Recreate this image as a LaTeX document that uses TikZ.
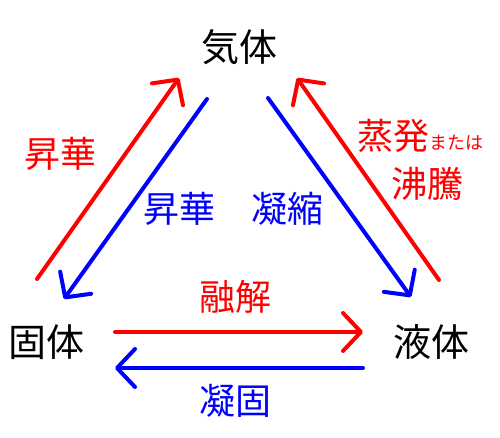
\documentclass[tikz,border=0pt]{standalone}
\usepackage{fontspec}
\newfontfamily\jpfont{Noto Sans CJK JP}
\usetikzlibrary{arrows.meta}
\definecolor{phasered}{RGB}{255,0,0}
\definecolor{phaseblue}{RGB}{0,0,255}
\tikzset{>={Straight Barb[length=9pt,width=19pt,line cap=round,line join=round]}}
\tikzset{%
    phase/.style={inner sep=0pt,font=\jpfont\fontsize{19}{21}\selectfont},
    change/.style={inner sep=0pt,font=\jpfont\fontsize{18}{20}\selectfont},
    trans/.style={->,line width=2pt,line cap=round}
}

\begin{document}
\begin{tikzpicture}[x=0.5pt,y=-0.5pt]
\useasboundingbox (0,0) rectangle (500,438);

\node[phase] (gas) at (240,47) {気体};
\node[phase] (solid) at (47,342) {固体};
\node[phase] (liquid) at (432,342) {液体};

\coordinate (sgR0) at (37,279);  \coordinate (sgR1) at (179,78);
\coordinate (gsB0) at (207,99);  \coordinate (gsB1) at (64,299);
\coordinate (lgR0) at (439,280); \coordinate (lgR1) at (297,78);
\coordinate (glB0) at (268,98);  \coordinate (glB1) at (411,297);
\coordinate (slR0) at (115,332); \coordinate (slR1) at (363,332);
\coordinate (lsB0) at (363,368); \coordinate (lsB1) at (115,368);

\draw[trans,phasered] (sgR0) -- (sgR1);
\draw[trans,phaseblue] (gsB0) -- (gsB1);
\draw[trans,phasered] (lgR0) -- (lgR1);
\draw[trans,phaseblue] (glB0) -- (glB1);
\draw[trans,phasered] (slR0) -- (slR1);
\draw[trans,phaseblue] (lsB0) -- (lsB1);

\node[change,text=phasered] (sublimeR) at (61,154) {昇華};
\node[change,text=phaseblue] (sublimeB) at (180,209) {昇華};
\node[change,text=phaseblue] (condense) at (288,209) {凝縮};
\node[change,text=phasered,anchor=west] (evap) at (357,136) {蒸発{\fontsize{9}{10}\selectfont または}};
\node[change,text=phasered] (boil) at (428,184) {沸騰};
\node[change,text=phasered] (melt) at (236,297) {融解};
\node[change,text=phaseblue] (freeze) at (236,401) {凝固};
\end{tikzpicture}
\end{document}
